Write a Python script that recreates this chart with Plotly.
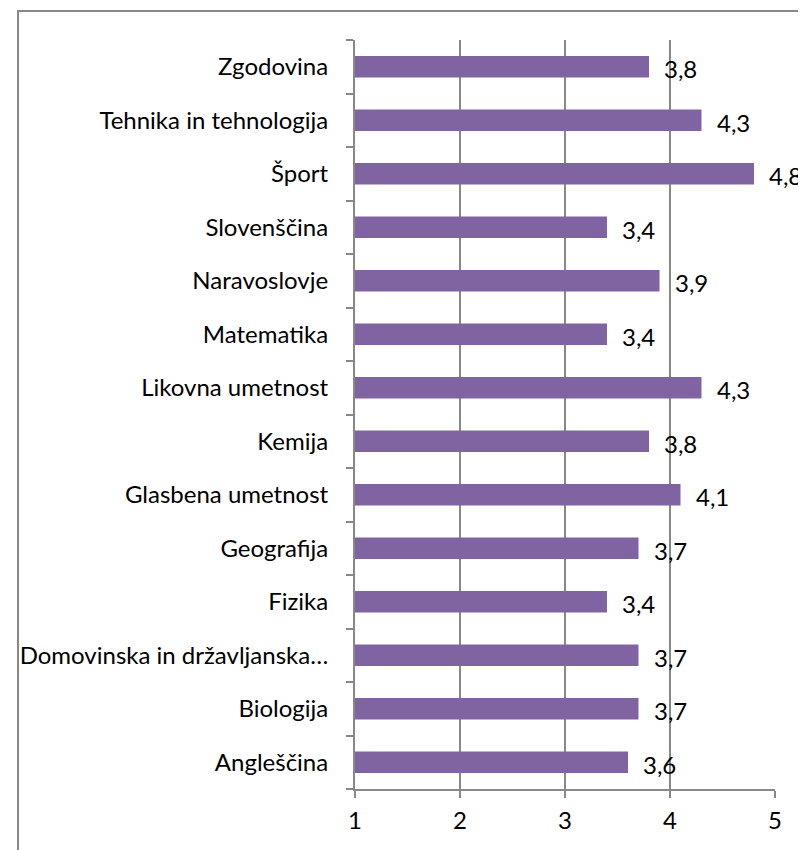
import plotly.graph_objects as go

categories = ["Angleščina", "Biologija", "Domovinska in državljanska…", "Fizika",
              "Geografija", "Glasbena umetnost", "Kemija", "Likovna umetnost",
              "Matematika", "Naravoslovje", "Slovenščina", "Šport",
              "Tehnika in tehnologija", "Zgodovina"]
values = [3.6, 3.7, 3.7, 3.4, 3.7, 4.1, 3.8, 4.3, 3.4, 3.9, 3.4, 4.8, 4.3, 3.8]
x_ticks = [1, 2, 3, 4, 5]

FONT = "Lato"
FS = 24
GREY = "#888888"

fig = go.Figure()
fig.add_trace(go.Bar(
    x=values, y=categories, orientation="h",
    marker=dict(color="#8064A2", line=dict(width=0)),
    width=0.4, hoverinfo="skip",
))

for c, v in zip(categories, values):
    fig.add_annotation(x=v, y=c, xref="x", yref="y",
                       text=f"{v:.1f}".replace(".", ","),
                       showarrow=False, xanchor="left", yanchor="middle",
                       xshift=13, yshift=-2,
                       font=dict(family=FONT, size=FS, color="#000000"))

fig.add_shape(type="rect", xref="paper", yref="paper",
              x0=-0.8024, x1=1.3, y0=-0.3, y1=1.0387,
              line=dict(color=GREY, width=2), fillcolor="rgba(0,0,0,0)", layer="below")

fig.update_layout(
    width=798, height=842,
    margin=dict(l=342, r=31, t=32, b=61),
    paper_bgcolor="white", plot_bgcolor="white",
    showlegend=False,
    font=dict(family=FONT, size=FS, color="#000000"),
)
fig.update_xaxes(
    range=[1, 5], tickvals=x_ticks, ticktext=[str(t) for t in x_ticks],
    showgrid=True, gridcolor=GREY, gridwidth=2,
    showline=True, linecolor=GREY, linewidth=2,
    ticks="outside", ticklen=7, tickcolor=GREY, tickwidth=2,
    ticklabelstandoff=2, zeroline=False, fixedrange=True,
)
fig.update_yaxes(
    categoryorder="array", categoryarray=categories,
    range=[-0.5, len(categories) - 0.5],
    showgrid=False, showline=True, linecolor=GREY, linewidth=2,
    ticks="outside", tickson="boundaries", ticklen=7, tickcolor=GREY, tickwidth=2,
    ticklabelstandoff=20, fixedrange=True,
)

fig.write_html("out.html")
